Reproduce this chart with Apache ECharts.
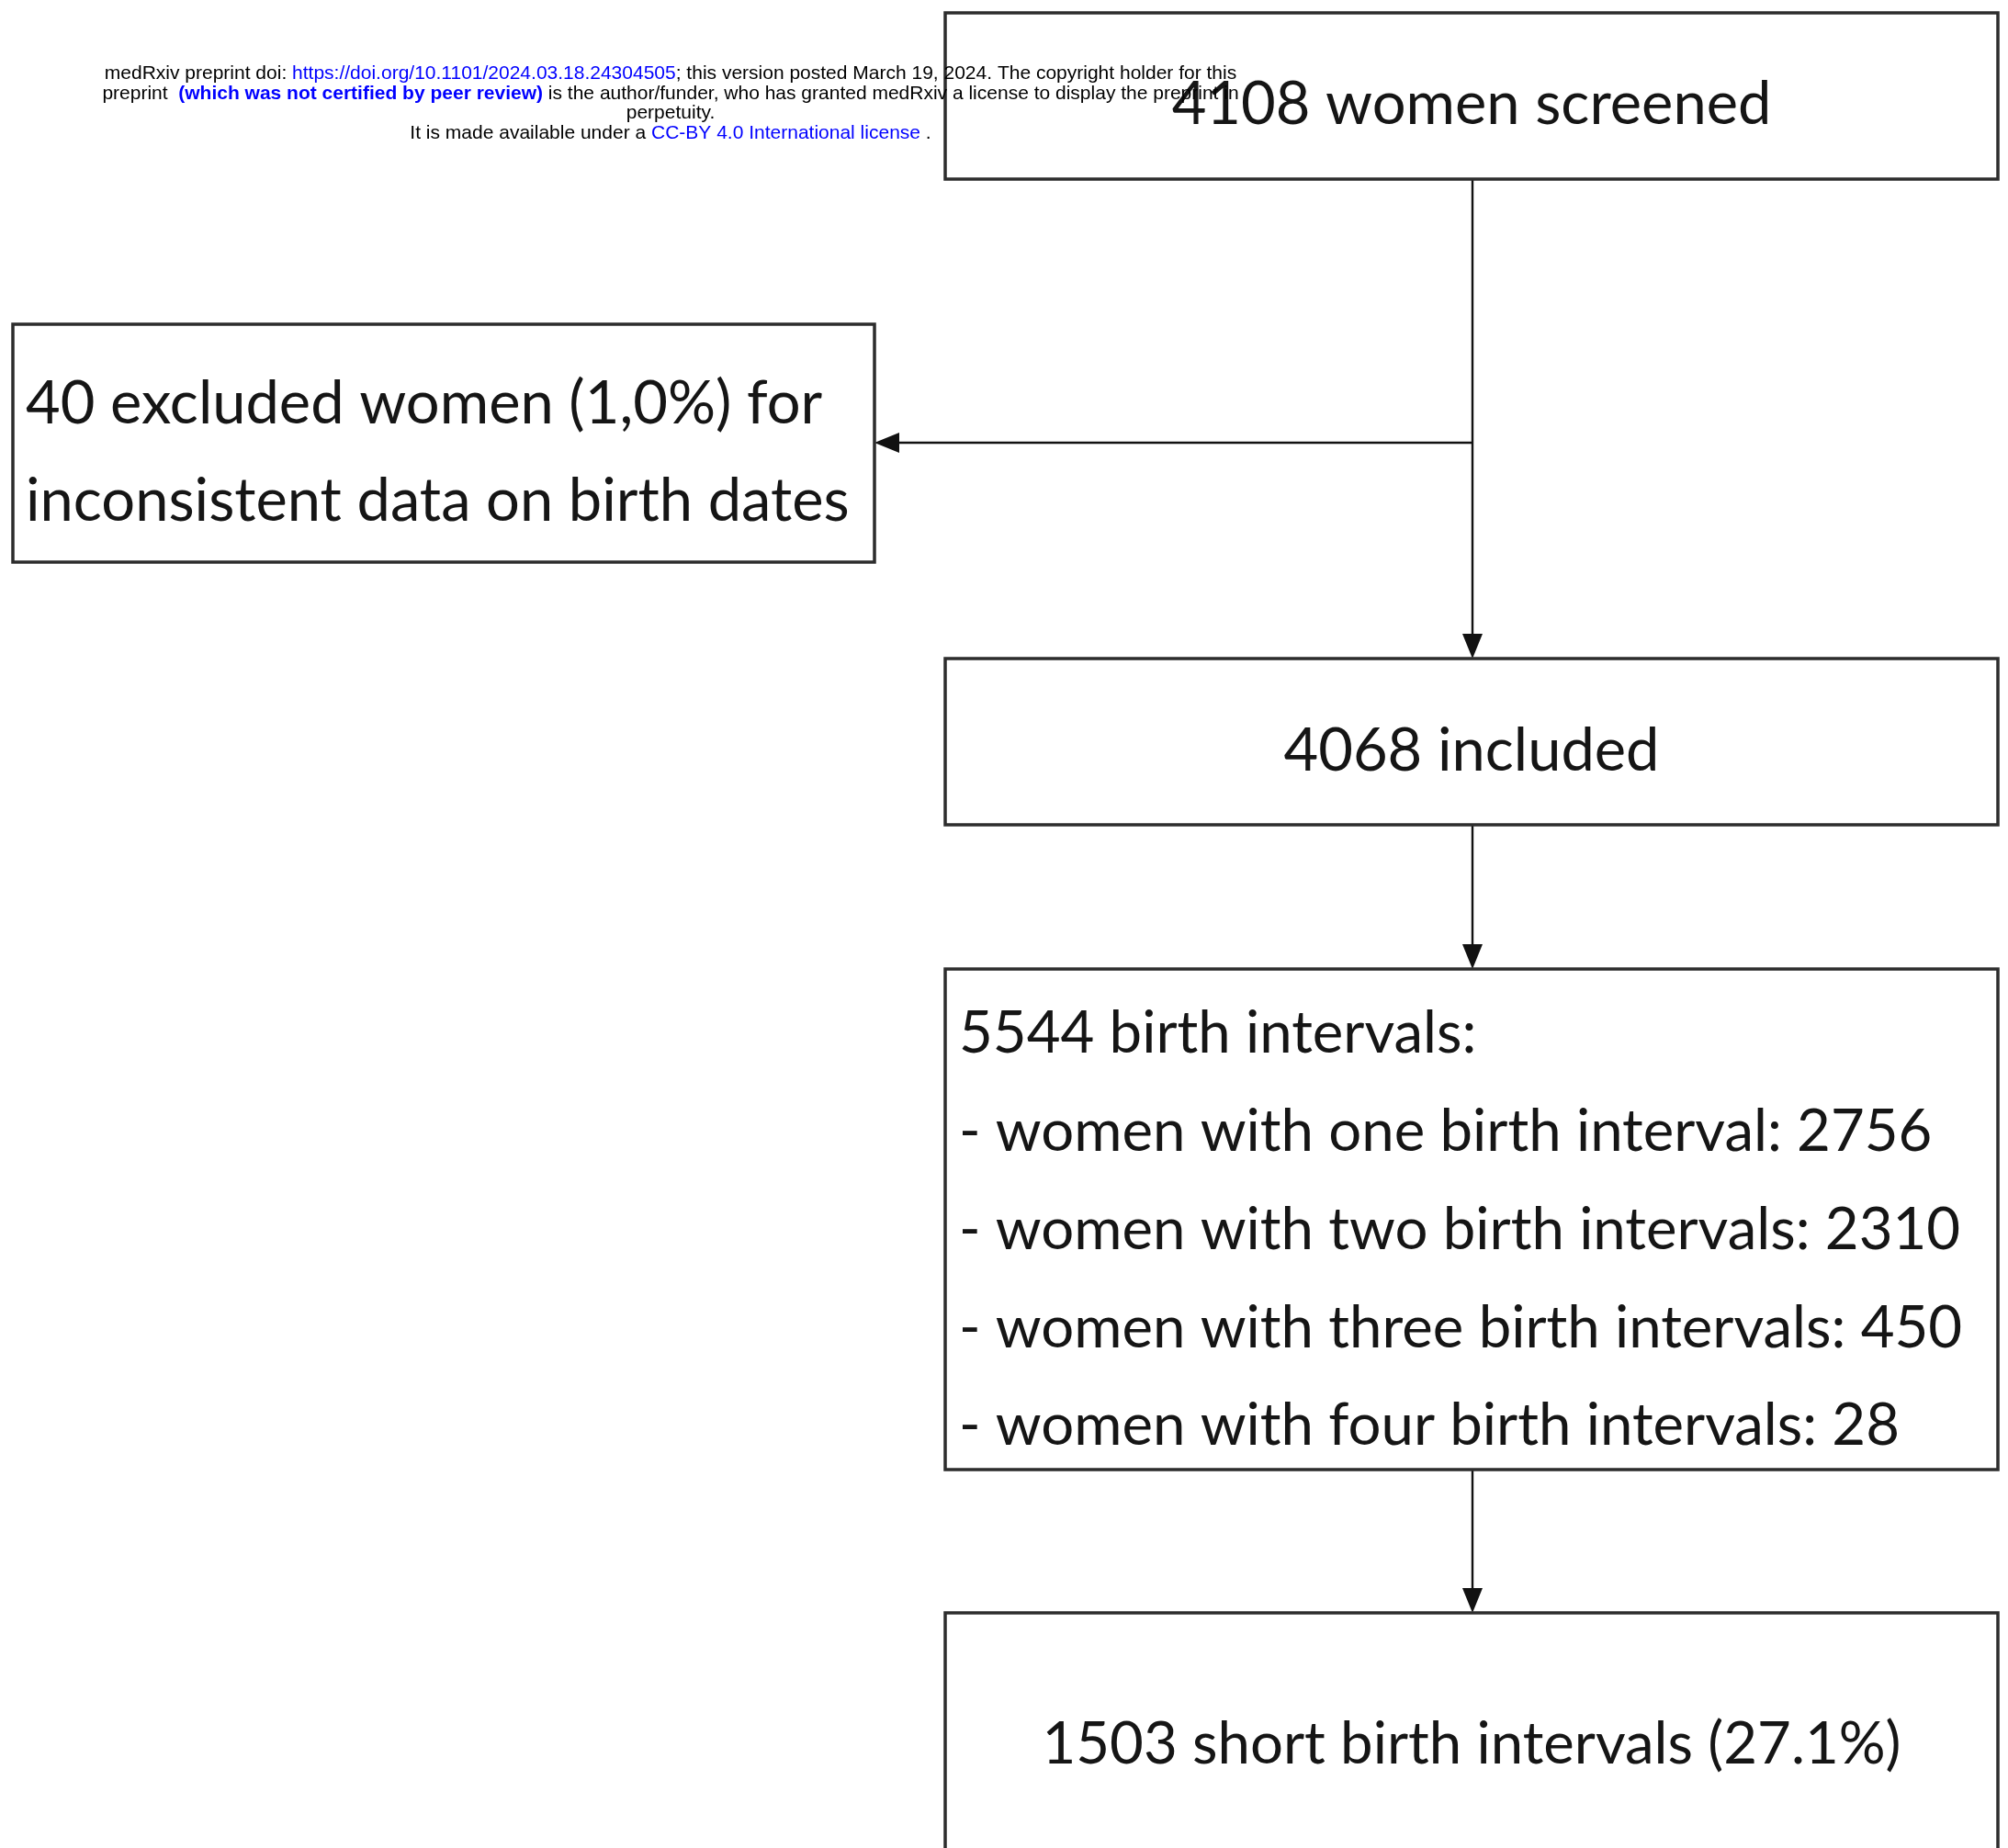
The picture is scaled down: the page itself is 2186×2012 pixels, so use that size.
<!DOCTYPE html>
<html><head><meta charset="utf-8">
<script src="https://cdn.jsdelivr.net/npm/echarts@6/dist/echarts.min.js"></script>
<style>html,body{margin:0;padding:0;background:#fff}#c{width:2186px;height:2012px}</style>
</head><body><div id="c"></div>
<script>
// ---------- data ----------
const screened = 4108;
const excluded = 40;
const excludedPct = '1,0%';
const included = 4068;
const birthIntervals = 5544;
const groupWords = ['one birth interval', 'two birth intervals', 'three birth intervals', 'four birth intervals'];
const groupCounts = [2756, 2310, 450, 28];
const shortIntervals = 1503;
const shortPct = '27.1%';

const headerLines = [
  [['medRxiv preprint doi: ', 'n'], ['https://doi.org/10.1101/2024.03.18.24304505', 'b'], ['; this version posted March 19, 2024. The copyright holder for this', 'n']],
  [['preprint  ', 'n'], ['(which was not certified by peer review)', 'bb'], [' is the author/funder, who has granted medRxiv a license to display the preprint in', 'n']],
  [['perpetuity.', 'n']],
  [['It is made available under a ', 'n'], ['CC-BY 4.0 International license', 'b'], [' .', 'n']]
];

const boxTexts = [
  [screened + ' women screened'],
  [excluded + ' excluded women (' + excludedPct + ') for', 'inconsistent data on birth dates'],
  [included + ' included'],
  [birthIntervals + ' birth intervals:'].concat(groupWords.map((w, i) => '- women with ' + w + ': ' + groupCounts[i])),
  [shortIntervals + ' short birth intervals (' + shortPct + ')']
];

// ---------- layout (diagram units) ----------
const boxRects = [
  [1029, 14, 2175, 195],
  [14, 353, 952, 612],
  [1029, 717, 2175, 898],
  [1029, 1055, 2175, 1600],
  [1029, 1756, 2175, 2060]
];
const textAnchor = [   // [x, firstLineCenterY, lineStep, align]
  [1602, 114, 0, 'center'],
  [28, 440, 106, 'left'],
  [1602, 818, 0, 'center'],
  [1044, 1126, 106.7, 'left'],
  [1602, 1900, 0, 'center']
];
const boxFontSize = [65, 65, 65, 63.5, 63.5];
const arrows = [
  [1603, 195, 1603, 717],
  [1603, 482, 952, 482],
  [1603, 898, 1603, 1055],
  [1603, 1600, 1603, 1756]
];

const boxData = boxRects.map(r => r.slice());
const textData = [];
boxTexts.forEach((lines, bi) => {
  lines.forEach((t, li) => {
    const a = textAnchor[bi];
    textData.push({value: [a[0], a[1] + li * a[2], bi, li], align: a[3]});
  });
});

const FONT = 'Lato';

function renderBox(params, api) {
  const p0 = api.coord([api.value(0), api.value(1)]);
  const p1 = api.coord([api.value(2), api.value(3)]);
  return {
    type: 'rect',
    shape: {x: p0[0], y: p0[1], width: p1[0] - p0[0], height: p1[1] - p0[1]},
    style: {fill: '#fff', stroke: '#2d2d2d', lineWidth: 3.5}
  };
}
function renderText(params, api) {
  const p = api.coord([api.value(0), api.value(1)]);
  const bi = api.value(2), li = api.value(3);
  const d = textData[params.dataIndex];
  return {
    type: 'text',
    style: {
      x: p[0], y: p[1], text: boxTexts[bi][li],
      fill: '#151515', font: '400 ' + boxFontSize[bi] + 'px ' + FONT,
      textAlign: d.align, textVerticalAlign: 'middle'
    }
  };
}
function renderArrow(params, api) {
  const a = api.coord([api.value(0), api.value(1)]);
  const b = api.coord([api.value(2), api.value(3)]);
  const dx = b[0] - a[0], dy = b[1] - a[1];
  const len = Math.sqrt(dx * dx + dy * dy);
  const ux = dx / len, uy = dy / len;
  const hl = 27, hw = 11;
  const base = [b[0] - ux * hl, b[1] - uy * hl];
  return {
    type: 'group',
    children: [
      {type: 'line', shape: {x1: a[0], y1: a[1], x2: base[0], y2: base[1]}, style: {stroke: '#111', lineWidth: 2.4}},
      {type: 'polygon', shape: {points: [[b[0], b[1]], [base[0] - uy * hw, base[1] + ux * hw], [base[0] + uy * hw, base[1] - ux * hw]]}, style: {fill: '#111'}}
    ]
  };
}

const richText = headerLines.map(line => line.map(seg => seg[1] === 'n' ? seg[0] : '{' + seg[1] + '|' + seg[0] + '}').join('')).join('\n');

const chart = echarts.init(document.getElementById('c'), null, {renderer: 'canvas'});
chart.setOption({
  backgroundColor: '#fff',
  animation: false,
  grid: {left: 0, right: 0, top: 0, bottom: 0},
  xAxis: {type: 'value', min: 0, max: 2186, show: false},
  yAxis: {type: 'value', min: 0, max: 2012, inverse: true, show: false},
  series: [
    {type: 'custom', renderItem: renderArrow, data: arrows, z: 1, clip: false},
    {type: 'custom', renderItem: renderBox, data: boxData, z: 2, clip: false},
    {type: 'custom', renderItem: renderText, data: textData, z: 3, clip: false}
  ],
  graphic: [{
    type: 'text', z: 100,
    x: 730, y: 70,
    style: {
      text: richText, textAlign: 'center', textVerticalAlign: 'top',
      font: '400 21px "Liberation Sans"', fill: '#000', lineHeight: 21.4,
      rich: {
        b: {fill: '#0000ff', fontSize: 21, fontFamily: 'Liberation Sans', lineHeight: 21.4},
        bb: {fill: '#0000ff', fontSize: 21, fontWeight: 'bold', fontFamily: 'Liberation Sans', lineHeight: 21.4}
      }
    }
  }]
});
</script>
</body></html>
